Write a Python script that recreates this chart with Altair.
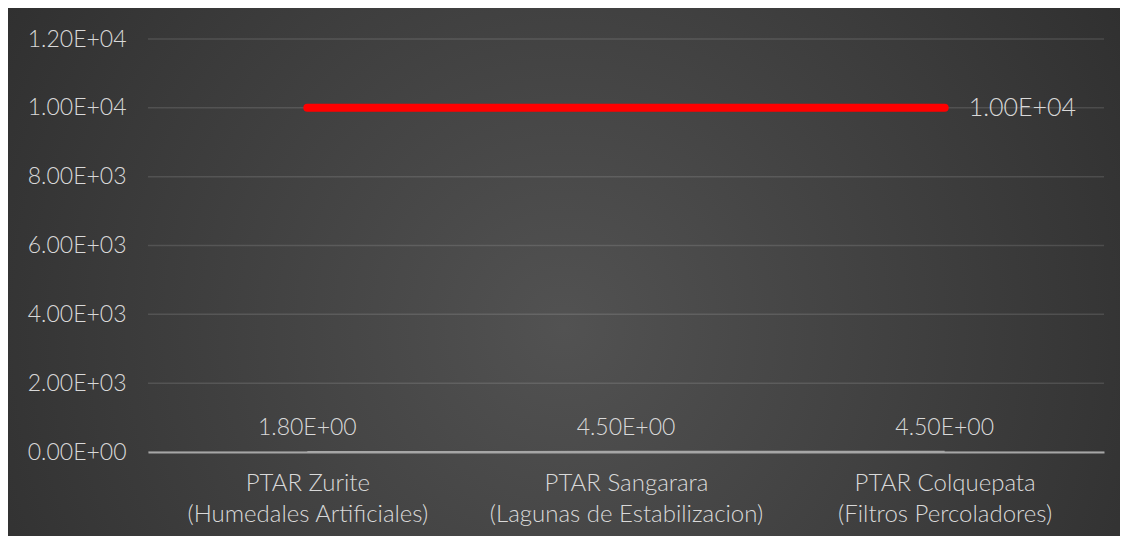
import altair as alt
import pandas as pd

# Treatment plants (two-line axis labels) and the series drawn for each
categories = [
    "PTAR Zurite\n(Humedales Artificiales)",
    "PTAR Sangarara\n(Lagunas de Estabilizacion)",
    "PTAR Colquepata\n(Filtros Percoladores)",
]
limit_values = [1.0e4, 1.0e4, 1.0e4]
measured_values = [1.8, 4.5, 4.5]
y_ticks = [0, 2000, 4000, 6000, 8000, 10000, 12000]

W, H = 956, 413
FONT = "Lato"
WEIGHT = 300
SIZE = 23
TXT = "#d9d9d9"
SCI = "replace(format(datum.value, '.2e'), 'e+', 'E+0')"

limit_df = pd.DataFrame({"planta": categories, "valor": limit_values})
measured_df = pd.DataFrame({"planta": categories, "valor": measured_values})
grid_df = pd.DataFrame({"valor": y_ticks})
bg_df = pd.DataFrame({"bg": [0]})

x_enc = alt.X(
    "planta:N",
    sort=categories,
    scale=alt.Scale(type="point", padding=0.5, domain=categories),
    axis=alt.Axis(
        title=None,
        labelExpr="split(datum.value, '\\n')",
        labelAngle=0,
        labelFont=FONT,
        labelFontWeight=WEIGHT,
        labelFontSize=24,
        labelColor=TXT,
        labelPadding=31,
        labelLineHeight=31,
        labelBaseline="middle",
        labelLimit=0,
        ticks=False,
        grid=False,
        domainColor="#a6a6a6",
        domainWidth=2,
        zindex=1,
    ),
)
y_scale = alt.Scale(domain=[0, 12000], nice=False)
y_axis = alt.Axis(
    title=None,
    values=y_ticks,
    labelExpr=SCI,
    labelFont=FONT,
    labelFontWeight=WEIGHT,
    labelFontSize=SIZE,
    labelColor=TXT,
    labelPadding=22,
    labelLimit=0,
    ticks=False,
    domain=False,
    grid=False,
    zindex=1,
)

# dark radial backdrop covering the whole figure
background = alt.Chart(bg_df).mark_rect(
    fill={
        "gradient": "radial",
        "x1": 0.5, "y1": 0.55, "r1": 0,
        "x2": 0.5, "y2": 0.55, "r2": 0.75,
        "stops": [
            {"offset": 0, "color": "#525252"},
            {"offset": 1, "color": "#262626"},
        ],
    },
    stroke=None,
).encode(
    x=alt.value(-140), x2=alt.value(W + 16),
    y=alt.value(-31), y2=alt.value(H + 84),
)

# horizontal gridlines; this layer also carries the value axis
grid = alt.Chart(grid_df).mark_rule(
    color="#ffffff", opacity=0.12, strokeWidth=1.5
).encode(y=alt.Y("valor:Q", scale=y_scale, axis=y_axis))

limit_line = alt.Chart(limit_df).mark_line(
    color="#ff0000", strokeWidth=8, strokeCap="round"
).encode(x=x_enc, y=alt.Y("valor:Q", scale=y_scale))

measured_line = alt.Chart(measured_df).mark_line(
    color="#a6a6a6", strokeWidth=2
).encode(x=x_enc, y=alt.Y("valor:Q", scale=y_scale))

measured_labels = alt.Chart(measured_df).mark_text(
    font=FONT, fontWeight=WEIGHT, fontSize=SIZE, color=TXT, dy=-24, baseline="middle"
).transform_calculate(
    etiqueta="replace(format(datum.valor, '.2e'), 'e+', 'E+0')"
).encode(x=x_enc, y=alt.Y("valor:Q", scale=y_scale), text="etiqueta:N")

limit_label = alt.Chart(limit_df.tail(1)).mark_text(
    font=FONT, fontWeight=WEIGHT, fontSize=25, color=TXT, dx=24, align="left", baseline="middle"
).transform_calculate(
    etiqueta="replace(format(datum.valor, '.2e'), 'e+', 'E+0')"
).encode(x=x_enc, y=alt.Y("valor:Q", scale=y_scale), text="etiqueta:N")

chart = alt.layer(
    background, grid, measured_line, limit_line, measured_labels, limit_label
).properties(
    width=W,
    height=H,
    autosize=alt.AutoSizeParams(type="none"),
    padding={"left": 148, "top": 39, "right": 17, "bottom": 84},
    background="#ffffff",
).configure_view(stroke=None)

chart.save("out.html", embed_options={"renderer": "svg", "actions": False})
